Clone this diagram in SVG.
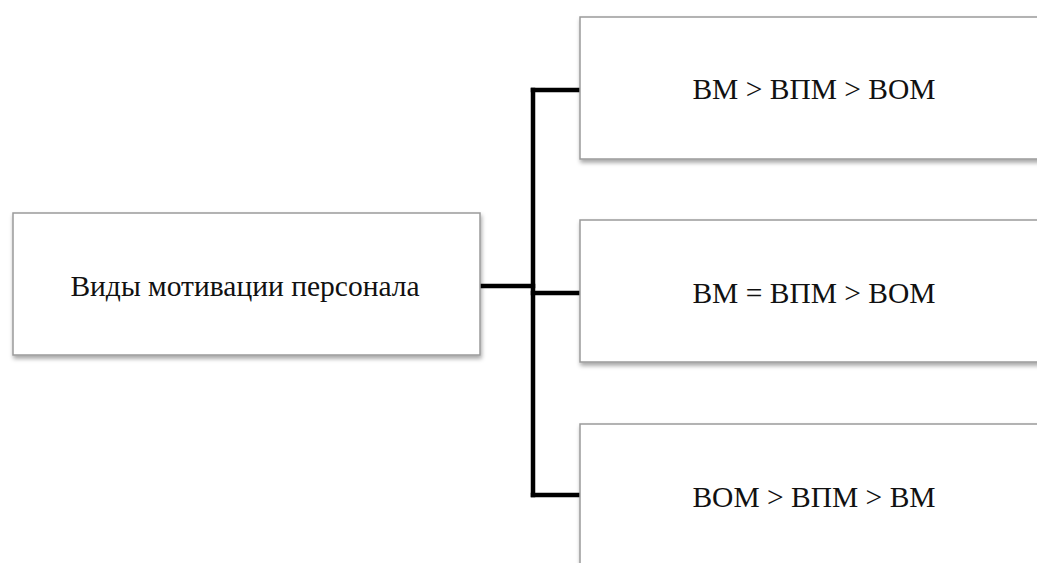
<svg xmlns="http://www.w3.org/2000/svg" width="1037" height="563" viewBox="0 0 1037 563">
<defs>
<filter id="sh" x="-5%" y="-10%" width="115%" height="130%">
<feDropShadow dx="1" dy="3" stdDeviation="2" flood-color="#000" flood-opacity="0.35"/>
</filter>
</defs>
<style>
.box{fill:#fff;stroke:#9a9a9a;stroke-width:1.5;filter:url(#sh)}
.lbl{font-family:"Liberation Serif","Times New Roman",serif;font-size:29.5px;fill:#111;text-anchor:middle}
.con{fill:none;stroke:#000;stroke-width:4.5;stroke-linecap:square;stroke-linejoin:miter}
</style>
<rect width="1037" height="563" fill="#fff"/>
<g id="connectors">
<path class="con" d="M480,286 H533"/>
<path class="con" d="M533,90 V495"/>
<path class="con" d="M533,90 H580"/>
<path class="con" d="M533,293 H580"/>
<path class="con" d="M533,495 H580"/>
</g>
<g id="node-root">
<rect class="box" x="13" y="213" width="467" height="142"/>
<text class="lbl" x="245" y="296">Виды мотивации персонала</text>
</g>
<g id="node-1">
<rect class="box" x="580" y="17" width="470" height="142"/>
<text class="lbl" x="814" y="99">ВМ &gt; ВПМ &gt; ВОМ</text>
</g>
<g id="node-2">
<rect class="box" x="580" y="220" width="470" height="142"/>
<text class="lbl" x="814" y="303">ВМ = ВПМ &gt; ВОМ</text>
</g>
<g id="node-3">
<rect class="box" x="580" y="424" width="470" height="160"/>
<text class="lbl" x="814" y="507">ВОМ &gt; ВПМ &gt; ВМ</text>
</g>
</svg>
